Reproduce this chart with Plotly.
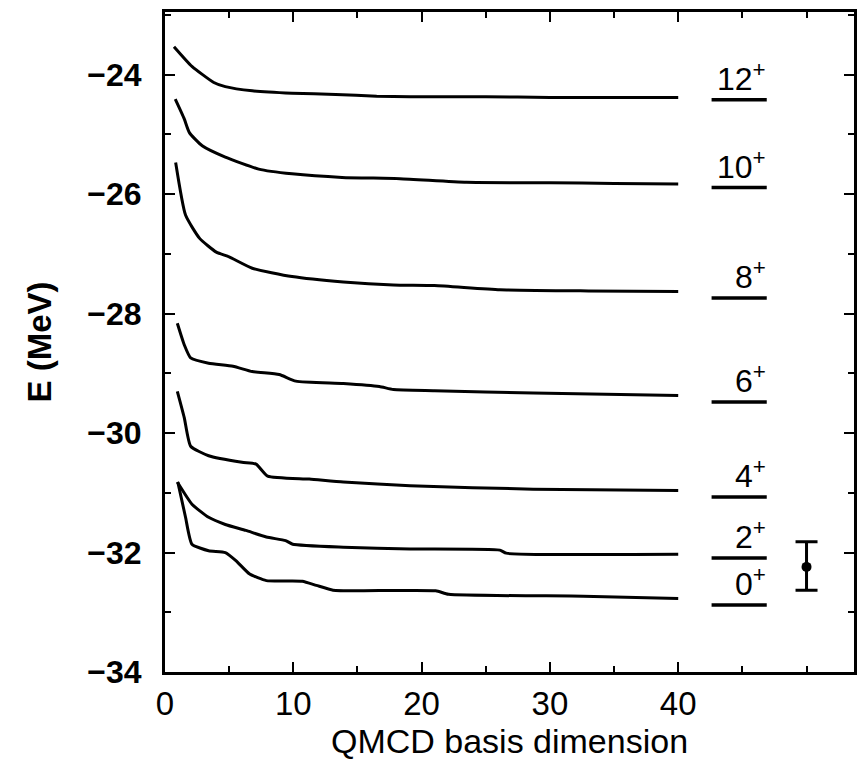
import plotly.graph_objects as go

# QMCD convergence curves (x = basis dimension, y = energy in MeV)
c12_x = [0.7, 2.1, 3.8, 4.7, 6.8, 9.9, 13.3, 16.5, 19.1, 25, 30, 35, 40]
c12_y = [-23.53, -23.86, -24.13, -24.2, -24.27, -24.31, -24.33, -24.36, -24.37, -24.37, -24.38, -24.38, -24.38]

c10_x = [0.8, 1.5, 1.9, 2.9, 4.7, 7.3, 9.9, 13.8, 18.3, 23.5, 30, 35, 40]
c10_y = [-24.41, -24.74, -24.97, -25.19, -25.38, -25.58, -25.66, -25.72, -25.74, -25.8, -25.81, -25.82, -25.83]

c8_x = [0.83, 1.6, 2.7, 4.0, 5.0, 6.8, 9.9, 13.9, 17.8, 21, 26.1, 33, 40]
c8_y = [-25.47, -26.35, -26.74, -26.97, -27.05, -27.24, -27.38, -27.47, -27.52, -27.53, -27.6, -27.62, -27.63]

c6_x = [0.96, 1.5, 2.0, 3.4, 5.3, 6.8, 8.9, 10.2, 13.9, 16.7, 17.8, 21, 28.7, 40]
c6_y = [-28.16, -28.52, -28.74, -28.83, -28.88, -28.97, -29.02, -29.13, -29.17, -29.22, -29.27, -29.29, -29.33, -29.37]

c4_x = [0.96, 1.5, 2.0, 3.4, 6.0, 7.1, 8.0, 11.25, 13.9, 19.1, 28.7, 40]
c4_y = [-29.3, -29.74, -30.22, -30.38, -30.49, -30.52, -30.72, -30.77, -30.82, -30.88, -30.94, -30.96]

c2_x = [0.96, 2.1, 3.4, 4.7, 6.3, 7.9, 9.4, 9.95, 13.9, 19.1, 26.1, 26.6, 40]
c2_y = [-30.82, -31.19, -31.41, -31.53, -31.63, -31.74, -31.8, -31.86, -31.91, -31.94, -31.96, -32.01, -32.03]

c0_x = [1.0, 1.6, 2.1, 3.4, 4.7, 5.5, 6.6, 7.9, 10.7, 11.8, 13.1, 15.2, 21.1, 22.1, 32.6, 40]
c0_y = [-30.82, -31.41, -31.86, -31.97, -32.0, -32.13, -32.36, -32.47, -32.48, -32.55, -32.63, -32.64, -32.64, -32.7, -32.73, -32.77]

# Experimental levels
level_labels = ["12<sup>+</sup>", "10<sup>+</sup>", "8<sup>+</sup>", "6<sup>+</sup>",
                "4<sup>+</sup>", "2<sup>+</sup>", "0<sup>+</sup>"]
level_energies = [-24.42, -25.89, -27.74, -29.48, -31.07, -32.09, -32.88]
level_x_start = 42.6
level_x_end = 46.9

# Measured point with error bar
exp_x = [50.0]
exp_y = [-32.24]
exp_err_plus = [0.42]
exp_err_minus = [0.39]

x_tick_vals = [0, 10, 20, 30, 40]
y_tick_vals = [-34, -32, -30, -28, -26, -24]

FONT = "Liberation Sans, Arial, Helvetica, sans-serif"

fig = go.Figure()
line_style = dict(color="black", width=3, shape="spline", smoothing=0.5)
for xs, ys in [(c12_x, c12_y), (c10_x, c10_y), (c8_x, c8_y), (c6_x, c6_y),
               (c4_x, c4_y), (c2_x, c2_y), (c0_x, c0_y)]:
    fig.add_trace(go.Scatter(x=xs, y=ys, mode="lines", line=line_style,
                             showlegend=False, hoverinfo="skip"))

for lab, e in zip(level_labels, level_energies):
    fig.add_trace(go.Scatter(x=[level_x_start, level_x_end], y=[e, e], mode="lines",
                             line=dict(color="black", width=3.5), showlegend=False))
    fig.add_annotation(x=level_x_end + 0.1, y=e, text=lab,
                       showarrow=False, xanchor="right", yanchor="bottom", yshift=1,
                       font=dict(family=FONT, size=32, color="black"))

fig.add_trace(go.Scatter(
    x=exp_x, y=exp_y, mode="markers",
    marker=dict(color="black", size=10, symbol="circle"),
    error_y=dict(type="data", symmetric=False, array=exp_err_plus,
                 arrayminus=exp_err_minus, color="black", thickness=3, width=11),
    showlegend=False))

fig.update_layout(
    width=864, height=763,
    margin=dict(l=165, r=7, t=12, b=91),
    plot_bgcolor="white", paper_bgcolor="white",
    font=dict(family=FONT, color="black"),
    xaxis=dict(
        range=[0, 53.7], tickvals=x_tick_vals, ticktext=[str(v) for v in x_tick_vals],
        ticks="inside", ticklen=10, tickwidth=2, tickcolor="black",
        minor=dict(dtick=5, tick0=0, ticks="inside", ticklen=6, tickwidth=2, tickcolor="black"),
        showline=True, linewidth=3, linecolor="black", mirror="ticks",
        showgrid=False, zeroline=False,
        tickfont=dict(family=FONT, size=33),
        title=dict(text="QMCD basis dimension", font=dict(family=FONT, size=34), standoff=4),
    ),
    yaxis=dict(
        range=[-34, -22.95], tickvals=y_tick_vals,
        ticktext=["<b>\u221234</b>", "<b>\u221232</b>", "<b>\u221230</b>",
                  "<b>\u221228</b>", "<b>\u221226</b>", "<b>\u221224</b>"],
        ticks="inside", ticklen=10, tickwidth=2, tickcolor="black",
        minor=dict(dtick=1, tick0=-34, ticks="inside", ticklen=6, tickwidth=2, tickcolor="black"),
        showline=True, linewidth=3, linecolor="black", mirror="ticks",
        showgrid=False, zeroline=False, ticklabelstandoff=14,
        tickfont=dict(family=FONT, size=32),
        title=dict(text="<b>E (MeV)</b>", font=dict(family=FONT, size=33), standoff=26),
    ),
)

fig.write_html("out.html")
